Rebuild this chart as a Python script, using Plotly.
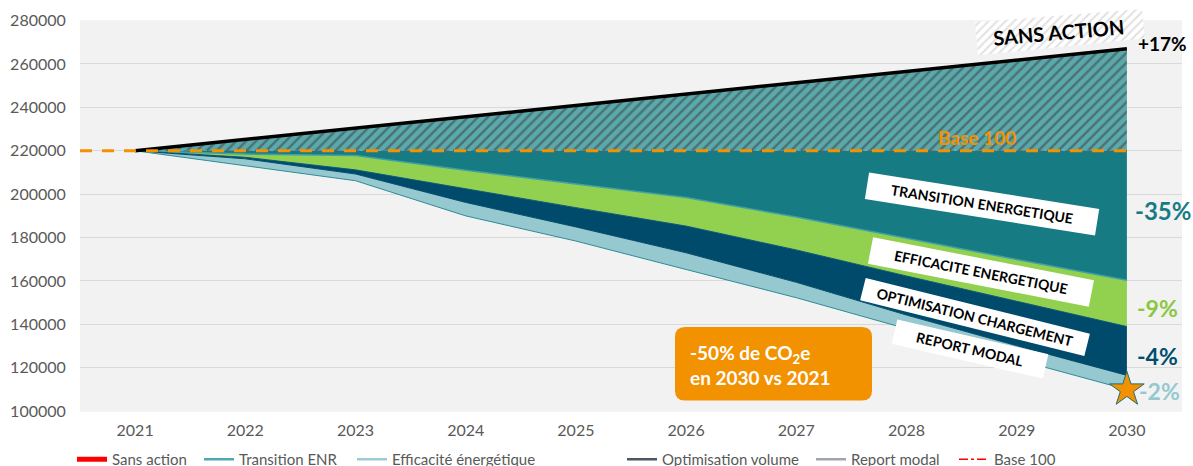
import plotly.graph_objects as go

years = [2021, 2022, 2023, 2024, 2025, 2026, 2027, 2028, 2029, 2030]
sans_action = [220000, 225200, 230400, 235700, 240900, 246100, 251300, 256600, 261800, 267000]
base_100 = [220000, 220000, 220000, 220000, 220000, 220000, 220000, 220000, 220000, 220000]
# lower edge of each wedge (the stack goes down from base 100)
transition_enr = [220000, 218500, 217800, 211000, 204700, 198500, 189500, 179600, 169900, 160300]
efficacite = [220000, 217000, 211200, 202400, 193800, 185300, 174300, 162300, 150600, 139000]
optimisation = [220000, 216300, 209300, 196200, 184900, 173000, 159400, 144300, 130200, 116500]
report_modal = [220000, 213200, 206200, 190000, 178400, 165300, 152300, 138000, 123800, 110000]

legend_names = ["Sans action", "Transition ENR", "Efficacité énergétique",
                "Optimisation volume", "Report modal", "Base 100"]
legend_colors = ["#FF0000", "#4BA9B0", "#9CCBD3", "#4B5763", "#A0A5AD", "#FF0000"]
legend_starts = [78, 205, 358, 628, 817, 960]

# layout is worked out on a 1193x466 grid; the page viewport is a little taller
PW, PH = 1193, 466
W, H = 1193, 476
FONT = "Lato"
GREY = "#595959"

fig = go.Figure()

# base 100 series (mostly hidden under the wedges, as in the original)
fig.add_trace(go.Scatter(x=years, y=base_100, mode="lines",
                         line=dict(color="#FF0000", width=1.5, dash="dashdot"),
                         showlegend=False))

# stacked wedges below base 100
fig.add_trace(go.Scatter(x=years, y=base_100, mode="lines", line=dict(width=0),
                         showlegend=False, hoverinfo="skip"))
fig.add_trace(go.Scatter(x=years, y=transition_enr, mode="lines", fill="tonexty",
                         fillcolor="#177B84", line=dict(color="#3FA0A7", width=1.5),
                         showlegend=False))
fig.add_trace(go.Scatter(x=years, y=efficacite, mode="lines", fill="tonexty",
                         fillcolor="#92D050", line=dict(color="#0E5A75", width=1),
                         showlegend=False))
fig.add_trace(go.Scatter(x=years, y=optimisation, mode="lines", fill="tonexty",
                         fillcolor="#004A6B", line=dict(color="#004A6B", width=1),
                         showlegend=False))
fig.add_trace(go.Scatter(x=years, y=report_modal, mode="lines", fill="tonexty",
                         fillcolor="#96C8CF", line=dict(color="#2F8C96", width=1),
                         showlegend=False))

# hatched "sans action" wedge above base 100
fig.add_trace(go.Scatter(x=years, y=base_100, mode="lines", line=dict(width=0),
                         showlegend=False, hoverinfo="skip"))
fig.add_trace(go.Scatter(x=years, y=sans_action, mode="lines", fill="tonexty",
                         fillpattern=dict(shape="/", bgcolor="#5AA9AC", fgcolor="#3A3A3A",
                                          size=7, solidity=0.35),
                         line=dict(color="black", width=3.5), showlegend=False))

# star at the 2030 end point
fig.add_trace(go.Scatter(x=[years[-1]], y=[report_modal[-1]], mode="markers",
                         marker=dict(symbol="star", size=26, color="#F39200",
                                     line=dict(color="#1F6E7A", width=1)),
                         showlegend=False, cliponaxis=False))

# legend entries, one small legend each so they sit where the original puts them
legends = {}
for i, (name, col, px) in enumerate(zip(legend_names, legend_colors, legend_starts)):
    key = "legend" if i == 0 else f"legend{i + 1}"
    if name == "Sans action":
        ln = dict(color=col, width=5)
    elif name == "Base 100":
        ln = dict(color=col, width=1.5, dash="dashdot")
    else:
        ln = dict(color=col, width=2.5)
    fig.add_trace(go.Scatter(x=[None], y=[None], mode="lines", name=name, line=ln,
                             legend=key))
    legends[key] = dict(orientation="h", x=(px - 6) / PW, xanchor="left",
                        y=9 / PH, yanchor="middle", bgcolor="rgba(0,0,0,0)",
                        font=dict(size=15, color=GREY, family=FONT), itemwidth=30)

# hatched label box for SANS ACTION (pixel axes)
fig.add_trace(go.Scatter(x=[975, 1142, 1145, 978, 975], y=[22, 9, 38, 55, 22],
                         mode="lines", fill="toself", line=dict(width=0),
                         fillpattern=dict(shape="/", bgcolor="white", fgcolor="#C4C4C4",
                                          size=6, solidity=0.35),
                         xaxis="x2", yaxis="y2", showlegend=False, hoverinfo="skip"))

x0 = 80 / PW
x1 = 1182 / PW
y0 = (PH - 409) / PH
y1 = (PH - 20) / PH

fig.update_layout(
    width=W, height=H,
    margin=dict(l=0, r=0, t=0, b=0),
    paper_bgcolor="white",
    plot_bgcolor="rgba(0,0,0,0)",
    font=dict(family=FONT, color=GREY, size=15),
    xaxis=dict(domain=[x0, x1], range=[2020.5, 2030.5], tickvals=years,
               showgrid=False, zeroline=False, showline=False, automargin=False,
               ticks="outside", ticklen=4, tickcolor="rgba(0,0,0,0)",
               tickfont=dict(size=16, color=GREY, family=FONT)),
    yaxis=dict(domain=[y0, y1], range=[99800, 280200], dtick=20000,
               showgrid=True, gridcolor="#D9D9D9", gridwidth=1, zeroline=False,
               automargin=False, ticks="outside", ticklen=10, tickcolor="rgba(0,0,0,0)",
               tickformat="d", tickfont=dict(size=16, color=GREY, family=FONT)),
    # pixel axes on the 1193x466 grid
    xaxis2=dict(domain=[0, 1], range=[0, PW], visible=False, anchor="y2",
                fixedrange=True),
    yaxis2=dict(domain=[0, 1], range=[PH, 0], visible=False, anchor="x2",
                fixedrange=True),
    showlegend=True,
    **legends,
)

# plot background and base-100 dashed line
fig.add_shape(type="rect", xref="x domain", yref="y domain", x0=0, x1=1, y0=0, y1=1,
              fillcolor="#F2F2F2", line=dict(width=0), layer="below")
fig.add_shape(type="line", xref="x", yref="y", x0=2020.5, x1=years[-1],
              y0=base_100[0], y1=base_100[-1],
              line=dict(color="#F39200", width=3, dash="12px,10px"))

# orange call-out box
r = 10
bx0, by0, bx1, by1 = 675, 325, 872, 398
path = (f"M {bx0 + r},{by0} L {bx1 - r},{by0} Q {bx1},{by0} {bx1},{by0 + r} "
        f"L {bx1},{by1 - r} Q {bx1},{by1} {bx1 - r},{by1} L {bx0 + r},{by1} "
        f"Q {bx0},{by1} {bx0},{by1 - r} L {bx0},{by0 + r} Q {bx0},{by0} {bx0 + r},{by0} Z")
fig.add_shape(type="path", path=path, xref="x2", yref="y2",
              fillcolor="#F39200", line=dict(width=0))


def note(text, x, y, size, color, angle=0, bold=True, **kw):
    fig.add_annotation(text=f"<b>{text}</b>" if bold else text, x=x, y=y,
                       xref="x2", yref="y2", showarrow=False, textangle=angle,
                       xanchor=kw.pop("xanchor", "center"), yanchor="middle",
                       font=dict(family=FONT, size=size, color=color), **kw)


note("-50% de CO<sub>2</sub>e<br>en 2030 vs 2021", 688, 363, 19, "white",
     xanchor="left", align="left")

note("SANS ACTION", 1058, 32, 20, "black", angle=-5)
note("+17%", 1162, 43, 19, "black")
note("Base 100", 977, 137, 19, "#F39200")
note("-35%", 1163, 209, 24, "#177B84")
note("-9%", 1157, 306, 23, "#8DC63F")
note("-4%", 1157, 354, 23, "#004E6E")
note("-2%", 1159, 388, 23, "#96C8CF")

note("TRANSITION ENERGETIQUE", 982, 203, 14, "black", angle=9,
     bgcolor="white", width=228, height=22, borderpad=2)
note("EFFICACITE ENERGETIQUE", 981, 270, 14, "black", angle=11,
     bgcolor="white", width=220, height=22, borderpad=2)
note("OPTIMISATION CHARGEMENT", 975, 315, 14, "black", angle=14,
     bgcolor="white", width=226, height=18, borderpad=2)
note("REPORT MODAL", 970, 347, 14, "black", angle=13,
     bgcolor="white", width=150, height=20, borderpad=2)

# drop the browser's default 8px body margin so the figure fills the window
fig.write_html("out.html", config={"displayModeBar": False},
               post_script="document.body.style.margin='0px';")
